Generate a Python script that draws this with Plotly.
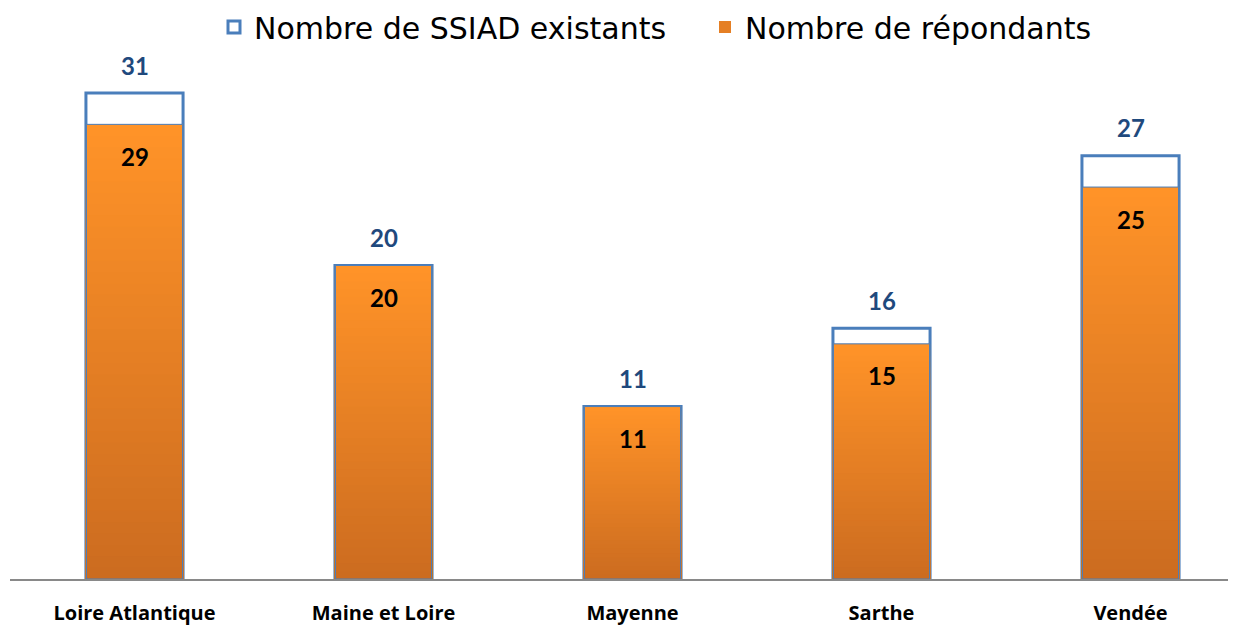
import plotly.graph_objects as go

categories = ["Loire Atlantique", "Maine et Loire", "Mayenne", "Sarthe", "Vendée"]
existants = [31, 20, 11, 16, 27]
repondants = [29, 20, 11, 15, 25]
name_exist = "Nombre de SSIAD existants"
name_rep = "Nombre de répondants"

OFF = 8  # page body margin
W, H = 1236 - OFF, 627 - OFF
ml = 10 - OFF
axis_y = 579 - OFF
mb = H - axis_y
px_per_unit = (579 - 93) / 31.0
ymax = axis_y / px_per_unit
cat_step = 249.0
x_right = (W - ml) / cat_step - 0.5

blue_line = "#4A7EBB"
top_c = (255, 147, 40)
bot_c = (204, 108, 32)
N = 40
bw = 0.39

fig = go.Figure()
fig.add_trace(go.Bar(
    x=categories, y=existants, name=name_exist, width=bw,
    marker=dict(color="white", line=dict(color=blue_line, width=3)),
    showlegend=True, hoverinfo="skip"))

for k in range(N):
    t = k / (N - 1)
    c = tuple(round(top_c[i] + (bot_c[i] - top_c[i]) * t) for i in range(3))
    frac = 1 - k / N
    fig.add_trace(go.Bar(
        x=categories, y=[v * frac for v in repondants], width=bw,
        name=name_rep, legendgroup="rep",
        marker=dict(color="rgb(%d,%d,%d)" % c, line=dict(width=0)),
        showlegend=(k == N // 2), hoverinfo="skip"))

fig.add_trace(go.Bar(
    x=categories, y=repondants, width=bw - 0.004, showlegend=False,
    marker=dict(color="rgba(0,0,0,0)", line=dict(color=blue_line, width=1)),
    hoverinfo="skip"))

for c, v in zip(categories, existants):
    fig.add_annotation(x=c, y=v, yshift=28, text=str(v), showarrow=False,
                       font=dict(family="Lato", size=24, color="#1F497D", weight=700))
for c, v in zip(categories, repondants):
    fig.add_annotation(x=c, y=v, yshift=-32, text=str(v), showarrow=False,
                       font=dict(family="Lato", size=24, color="#000000", weight=700))

fig.update_layout(
    width=W, height=H, barmode="overlay",
    margin=dict(l=ml, r=0, t=0, b=mb, autoexpand=False),
    plot_bgcolor="white", paper_bgcolor="white",
    legend=dict(orientation="h", x=(214 - OFF - ml) / (W - ml), xanchor="left",
                y=1 - (27 - OFF) / axis_y, yanchor="middle",
                font=dict(family="DejaVu Sans", size=30, color="#000000"),
                itemwidth=30, entrywidth=446, entrywidthmode="pixels",
                traceorder="normal", bgcolor="rgba(0,0,0,0)"),
    xaxis=dict(range=[-0.5, x_right], showline=True, linecolor="#898989",
               linewidth=2, showgrid=False, ticks="", ticklabelstandoff=15,
               tickfont=dict(family="Open Sans", size=20, color="#000000", weight=700)),
    yaxis=dict(range=[0, ymax], visible=False, showgrid=False),
)

fig.write_html("out.html")
